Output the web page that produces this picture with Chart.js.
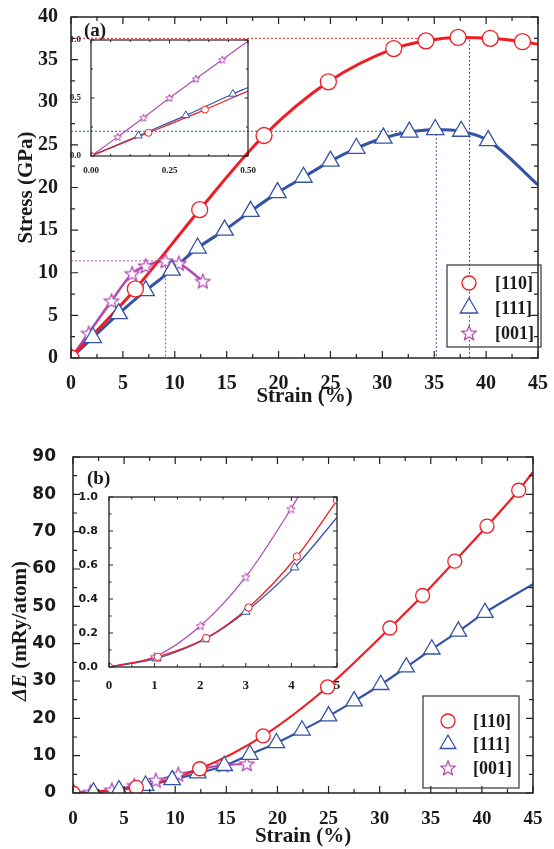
<!DOCTYPE html>
<html><head><meta charset="utf-8">
<script src="https://cdn.jsdelivr.net/npm/chart.js@4.4.1/dist/chart.umd.min.js"></script>
<style>
html,body{margin:0;padding:0;background:#fff;width:554px;height:849px;overflow:hidden;}
canvas{position:absolute;}
</style></head><body>
<canvas id="ca" width="554" height="420" style="left:0;top:0;width:554px;height:420px"></canvas>
<canvas id="cai" width="210" height="145" style="left:50px;top:30px;width:210px;height:145px"></canvas>
<canvas id="cb" width="554" height="429" style="left:0;top:420px;width:554px;height:429px"></canvas>
<canvas id="cbi" width="285" height="205" style="left:70px;top:485px;width:285px;height:205px"></canvas>
<script>
// ---------------- DATA ----------------
const seriesNames = ['[110]', '[111]', '[001]'];

// Panel (a): stress vs strain
const aStrain110 = [0, 6.2, 12.4, 18.6, 24.8, 31.1, 34.2, 37.3, 40.4, 43.5];
const aStress110 = [0, 8.1, 17.4, 26.1, 32.4, 36.3, 37.2, 37.6, 37.5, 37.1];
const aEnd110 = [45, 36.8];
const aStrain111 = [0, 2.1, 4.6, 7.2, 9.7, 12.2, 14.8, 17.3, 19.9, 22.4, 25.0, 27.5, 30.1, 32.6, 35.1, 37.6, 40.2];
const aStress111 = [0, 2.4, 5.2, 7.9, 10.3, 12.9, 15.0, 17.2, 19.4, 21.2, 23.1, 24.6, 25.8, 26.5, 26.8, 26.6, 25.5];
const aEnd111 = [45, 20.3];
const aStrain001 = [0, 1.7, 3.9, 5.9, 7.2, 9.1, 10.4, 12.7];
const aStress001 = [0, 2.9, 6.7, 9.9, 10.8, 11.4, 11.1, 9.0];
// ideal strength guides [strain, stress]
const aPeak110 = [38.4, 37.5];
const aPeak111 = [35.2, 26.6];
const aPeak001 = [9.1, 11.4];

// Inset (a)
const iaStrain110 = [0, 0.183, 0.363];
const iaStress110 = [0, 0.20, 0.40];
const iaEnd110 = [0.5, 0.56];
const iaStrain111 = [0, 0.151, 0.302, 0.452];
const iaStress111 = [0, 0.175, 0.35, 0.535];
const iaEnd111 = [0.5, 0.59];
const iaStrain001 = [0, 0.085, 0.167, 0.25, 0.334, 0.418];
const iaStress001 = [0, 0.165, 0.33, 0.50, 0.665, 0.83];
const iaEnd001 = [0.5, 0.99];

// Panel (b): energy vs strain
const bStrain110 = [0, 6.2, 12.4, 18.6, 24.9, 31.0, 34.2, 37.35, 40.5, 43.6];
const bEnergy110 = [0, 1.5, 6.5, 15.3, 28.4, 44.2, 52.9, 62.1, 71.5, 81.1];
const bEnd110 = [45, 86.0];
const bStrain111 = [0, 2.0, 4.5, 7.1, 9.7, 12.2, 14.8, 17.3, 19.9, 22.4, 25.0, 27.5, 30.1, 32.6, 35.1, 37.7, 40.3];
const bEnergy111 = [0, 0.2, 0.8, 2.0, 3.5, 5.3, 7.3, 10.3, 13.4, 16.8, 20.6, 24.6, 29.0, 33.7, 38.5, 43.3, 48.3];
const bEnd111 = [45, 55.9];
const bStrain001 = [0, 1.7, 3.8, 6.0, 8.1, 10.3, 12.5, 14.7, 17.0];
const bEnergy001 = [0, 0.2, 0.8, 2.0, 3.4, 5.0, 6.4, 7.5, 7.8];

// Inset (b)
const ibStrain110 = [0, 1.07, 2.13, 3.06, 4.12, 5.0];
const ibEnergy110 = [0, 0.06, 0.17, 0.35, 0.65, 0.98];
const ibStrain111 = [0, 1.05, 2.1, 3.0, 4.07];
const ibEnergy111 = [0, 0.05, 0.163, 0.325, 0.586];
const ibEnd111 = [5, 0.88];
const ibStrain001 = [0, 1.0, 2.01, 3.0, 3.99];
const ibEnergy001 = [0, 0.06, 0.243, 0.53, 0.93];
const ibEnd001 = [4.3, 1.07];

// ---------------- STYLE ----------------
const RED = '#ef1c24', BLUE = '#3553a6', MAG = '#b24cb2';
const SERIF = '"Liberation Serif", "Times New Roman", serif';
const SANS = '"DejaVu Sans", Verdana, sans-serif';
const INK = '#1a1a1a';

function makeStar(r, color, lw) {
  const size = Math.ceil(2 * r + 2 * lw + 2);
  const c = document.createElement('canvas');
  c.width = size; c.height = size;
  const g = c.getContext('2d');
  const cx = size / 2, cy = size / 2 + r * 0.08;
  g.beginPath();
  for (let i = 0; i < 10; i++) {
    const rr = (i % 2) ? r * 0.44 : r;
    const ang = -Math.PI / 2 + i * Math.PI / 5;
    g.lineTo(cx + rr * Math.cos(ang), cy + rr * Math.sin(ang));
  }
  g.closePath();
  g.fillStyle = '#fff'; g.fill();
  g.strokeStyle = color; g.lineWidth = lw; g.lineJoin = 'miter'; g.stroke();
  return c;
}

function pts(xs, ys, end) {
  const p = xs.map((x, i) => ({x: x, y: ys[i]}));
  if (end) p.push({x: end[0], y: end[1]});
  return p;
}
function guide(peak) {
  return [{x: 0, y: peak[1]}, {x: peak[0], y: peak[1]}, {x: peak[0], y: 0}];
}
function lineDs(data, color, w) {
  return {data: data, showLine: true, borderColor: color, borderWidth: w, pointRadius: 0,
    cubicInterpolationMode: 'monotone', fill: false, order: 2};
}
function markDs(data, color, style, r, bw) {
  return {data: data, showLine: false, pointStyle: style, pointRadius: r, pointHoverRadius: r,
    borderColor: color, backgroundColor: '#fff', borderWidth: bw || 1.3, order: 1};
}
function guideDs(data, color) {
  return {data: data, showLine: true, borderColor: color, borderWidth: 1, borderDash: [2, 2],
    pointRadius: 0, tension: 0, fill: false, order: 3};
}

function drawMarker(ctx, style, x, y, r, color) {
  if (typeof style === 'object') {
    ctx.drawImage(style, x - style.width / 2, y - style.height / 2);
    return;
  }
  ctx.save();
  ctx.fillStyle = '#fff'; ctx.strokeStyle = color; ctx.lineWidth = 1.3;
  ctx.beginPath();
  if (style === 'circle') ctx.arc(x, y, r, 0, Math.PI * 2);
  else {
    ctx.moveTo(x, y - r);
    ctx.lineTo(x + 0.866 * r, y + 0.5 * r);
    ctx.lineTo(x - 0.866 * r, y + 0.5 * r);
    ctx.closePath();
  }
  ctx.fill(); ctx.stroke();
  ctx.restore();
}

// ---------------- PLUGINS ----------------
const frameTicks = {
  id: 'frameTicks',
  afterDatasetsDraw(chart, args, o) {
    const ctx = chart.ctx, a = chart.chartArea;
    const xs = chart.scales.x, ys = chart.scales.y;
    ctx.save();
    ctx.strokeStyle = o.color || '#222';
    ctx.lineWidth = o.tickWidth || 1.2;
    ctx.beginPath();
    const nx = Math.round((xs.max - xs.min) / o.xMinor), kx = Math.round(o.xMajor / o.xMinor);
    for (let i = 0; i <= nx; i++) {
      const p = xs.getPixelForValue(xs.min + i * o.xMinor);
      const L = (i % kx === 0) ? o.major : o.minor;
      ctx.moveTo(p, a.bottom); ctx.lineTo(p, a.bottom - L);
      ctx.moveTo(p, a.top); ctx.lineTo(p, a.top + L);
    }
    const ny = Math.round((ys.max - ys.min) / o.yMinor), ky = Math.round(o.yMajor / o.yMinor);
    for (let i = 0; i <= ny; i++) {
      const p = ys.getPixelForValue(ys.min + i * o.yMinor);
      const L = (i % ky === 0) ? o.major : o.minor;
      ctx.moveTo(a.left, p); ctx.lineTo(a.left + L, p);
      ctx.moveTo(a.right, p); ctx.lineTo(a.right - L, p);
    }
    ctx.stroke();
    ctx.lineWidth = o.frameWidth || 1.5;
    ctx.strokeRect(a.left, a.top, a.right - a.left, a.bottom - a.top);
    ctx.restore();
  }
};

const panelText = {
  id: 'panelText',
  afterDraw(chart, args, o) {
    const ctx = chart.ctx, a = chart.chartArea;
    ctx.save();
    ctx.fillStyle = INK;
    if (o.tag) {
      ctx.font = 'bold 19px ' + SERIF;
      ctx.textAlign = 'left'; ctx.textBaseline = 'middle';
      ctx.fillText(o.tag, a.left + o.tagDx, a.top + o.tagDy);
    }
    if (o.legend) {
      const L = o.legend;
      ctx.strokeStyle = '#333'; ctx.lineWidth = 1.2;
      ctx.strokeRect(L.box[0], L.box[1], L.box[2] - L.box[0], L.box[3] - L.box[1]);
      ctx.font = 'bold 18px ' + SERIF;
      ctx.textAlign = 'left'; ctx.textBaseline = 'middle';
      L.items.forEach((it, i) => {
        drawMarker(ctx, it.style, L.markerX, it.y, it.r, it.color);
        ctx.fillStyle = INK;
        ctx.fillText(seriesNames[i], L.textX, it.y + 1);
      });
    }
    if (o.yTitle) {
      const t = o.yTitle;
      ctx.translate(t.x, (a.top + a.bottom) / 2 + t.dy);
      ctx.rotate(-Math.PI / 2);
      const f1 = 'italic bold 21px ' + SERIF, f2 = 'bold 21px ' + SERIF;
      ctx.font = f1; const w1 = ctx.measureText(t.a).width;
      ctx.font = f2; const w2 = ctx.measureText(t.b).width;
      const x0 = -(w1 + w2) / 2;
      ctx.textAlign = 'left'; ctx.textBaseline = 'middle';
      ctx.font = f1; ctx.fillText(t.a, x0, 0);
      ctx.font = f2; ctx.fillText(t.b, x0 + w1, 0);
    }
    ctx.restore();
  }
};

function axis(min, max, step, font, pad, fit, isX, fmt, title) {
  const ax = {
    type: 'linear', min: min, max: max,
    grid: {display: false}, border: {display: false},
    ticks: {stepSize: step, font: font, color: INK, padding: pad, maxRotation: 0, autoSkip: false,
      includeBounds: false},
    afterFit: isX ? (s => { s.height = fit; }) : (s => { s.width = fit; })
  };
  if (fmt) ax.ticks.callback = fmt;
  if (title) ax.title = title;
  else ax.title = {display: false};
  return ax;
}

function baseOptions(padding, xAx, yAx, ft, pt) {
  return {
    responsive: false, animation: false, devicePixelRatio: 1,
    layout: {padding: padding},
    scales: {x: xAx, y: yAx},
    plugins: {legend: {display: false}, tooltip: {enabled: false}, frameTicks: ft, panelText: pt || {}},
    elements: {line: {capBezierPoints: true}}
  };
}

// ---------------- PANEL (a) ----------------
const starA = makeStar(7.5, MAG, 1.3);
const tickSerif20 = {family: SERIF, size: 20, weight: 'bold'};
const titleSerif21 = {family: SERIF, size: 21, weight: 'bold'};

new Chart(document.getElementById('ca'), {
  type: 'scatter',
  data: {datasets: [
    markDs(pts(aStrain110, aStress110), RED, 'circle', 8),
    markDs(pts(aStrain111, aStress111), BLUE, 'triangle', 10),
    markDs(pts(aStrain001, aStress001), MAG, starA, 7.5),
    lineDs(pts(aStrain110, aStress110, aEnd110), RED, 3),
    lineDs(pts(aStrain111, aStress111, aEnd111), BLUE, 3),
    lineDs(pts(aStrain001, aStress001), MAG, 2.6),
    guideDs(guide(aPeak110), RED),
    guideDs(guide(aPeak111), BLUE),
    guideDs(guide(aPeak001), MAG)
  ]},
  options: baseOptions({left: 0, right: 10, top: 12, bottom: 0},
    axis(0, 45, 5, tickSerif20, 6, 62, true, null,
      {display: true, text: 'Strain (%)', font: titleSerif21, color: INK, padding: {top: 0, bottom: 11}}),
    axis(0, 40, 5, tickSerif20, 5, 71, false, null,
      {display: true, text: 'Stress (GPa)', font: titleSerif21, color: INK, padding: {top: 14, bottom: 0}}),
    {xMinor: 2.5, xMajor: 5, yMinor: 2.5, yMajor: 5, major: 7, minor: 4},
    {tag: '(a)', tagDx: 13, tagDy: 14,
     legend: {box: [447, 265, 541, 347], markerX: 469, textX: 495,
       items: [{y: 283, style: 'circle', r: 7, color: RED},
               {y: 308, style: 'triangle', r: 10, color: BLUE},
               {y: 333, style: starA, r: 7.5, color: MAG}]}}),
  plugins: [frameTicks, panelText]
});

// ---------------- INSET (a) ----------------
const starIA = makeStar(4, MAG, 1);
const tickSerif9 = {family: SERIF, size: 9, weight: 'bold'};
new Chart(document.getElementById('cai'), {
  type: 'scatter',
  data: {datasets: [
    markDs(pts(iaStrain110, iaStress110), RED, 'circle', 3.5, 1),
    markDs(pts(iaStrain111, iaStress111), BLUE, 'triangle', 4.5, 1),
    markDs(pts(iaStrain001, iaStress001), MAG, starIA, 4),
    lineDs(pts(iaStrain110, iaStress110, iaEnd110), RED, 1.2),
    lineDs(pts(iaStrain111, iaStress111, iaEnd111), BLUE, 1.2),
    lineDs(pts(iaStrain001, iaStress001, iaEnd001), MAG, 1.2)
  ]},
  options: baseOptions({left: 0, right: 12, top: 10, bottom: 0},
    axis(0, 0.5, 0.25, tickSerif9, 1.5, 19, true, v => v.toFixed(2)),
    axis(0, 1.0, 0.5, tickSerif9, 2, 41, false, v => v.toFixed(1)),
    {xMinor: 0.0625, xMajor: 0.25, yMinor: 0.25, yMajor: 0.5, major: 3.5, minor: 2, frameWidth: 1.2, tickWidth: 1}),
  plugins: [frameTicks]
});

// ---------------- PANEL (b) ----------------
const starB = makeStar(7.5, MAG, 1.3);
const tickSerif19 = {family: SERIF, size: 19, weight: 'bold'};
const tickSans17 = {family: SANS, size: 17, weight: 'bold'};
new Chart(document.getElementById('cb'), {
  type: 'scatter',
  data: {datasets: [
    markDs(pts(bStrain110, bEnergy110), RED, 'circle', 7),
    markDs(pts(bStrain111, bEnergy111), BLUE, 'triangle', 9.5),
    markDs(pts(bStrain001, bEnergy001), MAG, starB, 7.5),
    lineDs(pts(bStrain110, bEnergy110, bEnd110), RED, 2.2),
    lineDs(pts(bStrain111, bEnergy111, bEnd111), BLUE, 2.2),
    lineDs(pts(bStrain001, bEnergy001), MAG, 2)
  ]},
  options: baseOptions({left: 0, right: 21, top: 37, bottom: 0},
    axis(0, 45, 5, tickSerif19, 7, 56, true, null,
      {display: true, text: 'Strain (%)', font: titleSerif21, color: INK, padding: {top: 0, bottom: 0}}),
    axis(0, 90, 10, tickSans17, 9, 73, false, null, null),
    {xMinor: 2.5, xMajor: 5, yMinor: 5, yMajor: 10, major: 7, minor: 4},
    {tag: '(b)', tagDx: 14, tagDy: 22,
     yTitle: {x: 20.5, dy: 6, a: 'ΔE', b: ' (mRy/atom)'},
     legend: {box: [423, 276, 519, 368], markerX: 448, textX: 473,
       items: [{y: 301, style: 'circle', r: 7, color: RED},
               {y: 324, style: 'triangle', r: 9, color: BLUE},
               {y: 348, style: starB, r: 7.5, color: MAG}]}}),
  plugins: [frameTicks, panelText]
});

// ---------------- INSET (b) ----------------
const starIB = makeStar(4.5, MAG, 1);
const tickSans11 = {family: SANS, size: 11, weight: 'bold'};
const tickSerif13 = {family: SERIF, size: 13, weight: 'bold'};
new Chart(document.getElementById('cbi'), {
  type: 'scatter',
  data: {datasets: [
    markDs(pts(ibStrain110, ibEnergy110), RED, 'circle', 3.7, 1),
    markDs(pts(ibStrain111, ibEnergy111), BLUE, 'triangle', 5, 1),
    markDs(pts(ibStrain001, ibEnergy001), MAG, starIB, 4.5),
    lineDs(pts(ibStrain110, ibEnergy110), RED, 1.3),
    lineDs(pts(ibStrain111, ibEnergy111, ibEnd111), BLUE, 1.3),
    lineDs(pts(ibStrain001, ibEnergy001, ibEnd001), MAG, 1.3)
  ]},
  options: baseOptions({left: 0, right: 18, top: 12, bottom: 0},
    axis(0, 5, 1, tickSerif13, 3, 23, true, null),
    axis(0, 1.0, 0.2, tickSans11, 3, 39, false, v => v.toFixed(1)),
    {xMinor: 0.5, xMajor: 1, yMinor: 0.1, yMajor: 0.2, major: 4, minor: 2.5, frameWidth: 1.3, tickWidth: 1}),
  plugins: [frameTicks]
});
</script>
</body></html>
